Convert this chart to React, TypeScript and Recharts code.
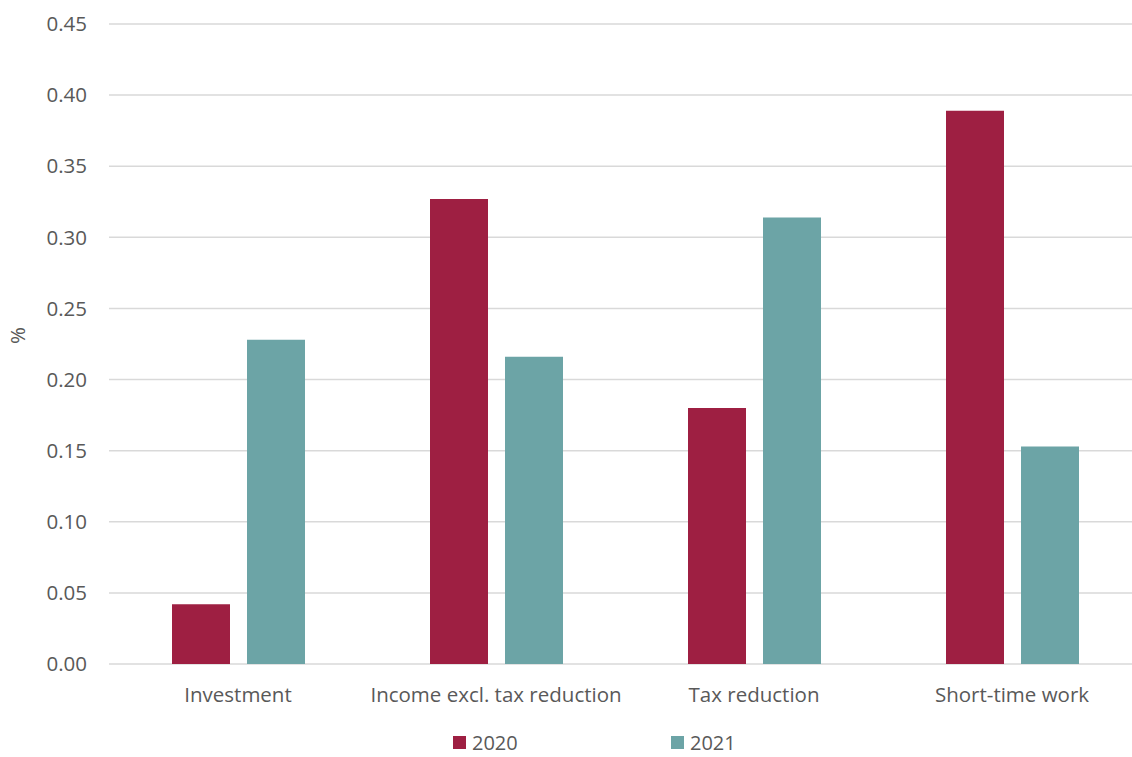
import React from 'react';
import {Bar, BarChart, CartesianGrid, Legend, XAxis, YAxis} from 'recharts';

const categories = ['Investment', 'Income excl. tax reduction', 'Tax reduction', 'Short-time work'];
const values2020 = [0.042, 0.327, 0.18, 0.389];
const values2021 = [0.228, 0.216, 0.314, 0.153];
const yTicks = [0, 0.05, 0.1, 0.15, 0.2, 0.25, 0.3, 0.35, 0.4, 0.45];

const COLOR_2020 = '#9E1F42';
const COLOR_2021 = '#6CA4A6';
const FONT = '"Open Sans", sans-serif';

const data = categories.map((name, i) => ({
    name,
    y2020: values2020[i],
    y2021: values2021[i],
}));

const LegendContent = () => {
    const items = [
        {label: '2020', color: COLOR_2020},
        {label: '2021', color: COLOR_2021},
    ];
    return (
        <div style={{display: 'flex', fontFamily: FONT, fontSize: 20, lineHeight: '21px', color: '#595959', paddingTop: 10}}>
            {items.map((it) => (
                <div key={it.label} style={{display: 'flex', alignItems: 'center', width: 218}}>
                    <span style={{display: 'inline-block', width: 13, height: 13, background: it.color, marginRight: 6}}/>
                    <span>{it.label}</span>
                </div>
            ))}
        </div>
    );
};

export default function App() {
    return (
        <div style={{position: 'absolute', left: 0, top: 0, width: 1132, height: 757, overflow: 'hidden', background: '#fff'}}>
            <BarChart
                width={1141}
                height={757}
                data={data}
                margin={{top: 24, right: 0, left: 0, bottom: 0}}
                barCategoryGap={63}
                barGap={17}
            >
                <CartesianGrid vertical={false} stroke="#D9D9D9" strokeWidth={1.5}/>
                <XAxis
                    dataKey="name"
                    axisLine={false}
                    tickLine={false}
                    height={58}
                    tick={{fill: '#595959', fontSize: 20.5, fontFamily: FONT}}
                    dy={15}
                    interval={0}
                />
                <YAxis
                    domain={[0, 0.45]}
                    ticks={yTicks}
                    width={109}
                    axisLine={false}
                    tickLine={false}
                    tick={{fill: '#595959', fontSize: 20.5, fontFamily: FONT}}
                    tickFormatter={(v: number) => v.toFixed(2)}
                    dx={-14}
                    label={{value: '%', angle: -90, position: 'insideLeft', offset: 18, fill: '#595959', fontSize: 20.5, fontFamily: FONT}}
                />
                <Legend
                    verticalAlign="bottom"
                    content={<LegendContent/>}
                    wrapperStyle={{left: 453, width: 436, height: 35}}
                />
                <Bar dataKey="y2020" name="2020" fill={COLOR_2020} isAnimationActive={false}/>
                <Bar dataKey="y2021" name="2021" fill={COLOR_2021} isAnimationActive={false}/>
            </BarChart>
        </div>
    );
}
